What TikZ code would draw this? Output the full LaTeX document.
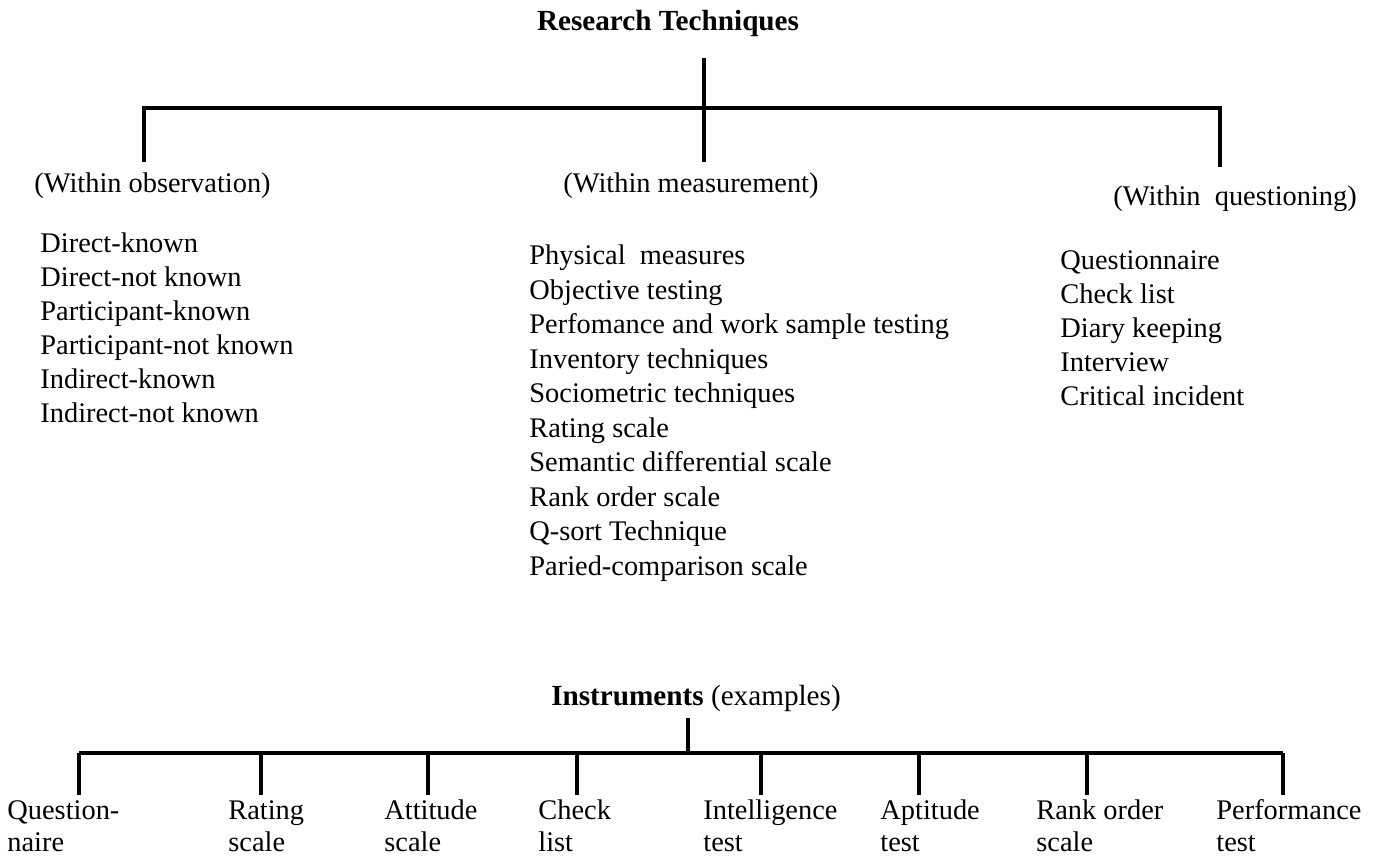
\documentclass[tikz,border=0pt]{standalone}
\usepackage{fontspec}
\setmainfont{Liberation Serif}
\begin{document}
\begin{tikzpicture}[x=0.5pt,y=-0.5pt,
  txt/.style={font=\fontsize{14.2pt}{17pt}\selectfont, inner sep=0pt, anchor=base west},
  head/.style={font=\fontsize{14.6pt}{17pt}\selectfont, inner sep=0pt, anchor=base},
  bus/.style={line width=1.6pt, line cap=butt}]
\useasboundingbox (0,0) rectangle (1379,857);

% --- Research techniques tree ---
\node[head] (rt) at (668,30) {\bfseries Research Techniques};
\node[txt] (obs) at (34,192) {(Within observation)};
\node[txt] (mea) at (563,192) {(Within measurement)};
\node[txt] (que) at (1113,205) {(Within\ \ questioning)};

\coordinate (rtfoot) at (704,58);
\coordinate (rtjoin) at (704,108);
\coordinate (obsbus) at (144,108);
\coordinate (quebus) at (1220,108);
\coordinate (obstop) at (144,162);
\coordinate (meatop) at (704,162);
\coordinate (quetop) at (1220,167);

\draw[bus] (obstop) -- (obsbus) -- (quebus) -- (quetop);
\draw[bus] (rtfoot) -- (rtjoin) -- (meatop);

% observation techniques
\foreach \t [count=\i] in {Direct-known, Direct-not known, Participant-known,
    Participant-not known, Indirect-known, Indirect-not known}
  \node[txt] (o\i) at (40,{218+34*\i}) {\t};

% measurement techniques
\foreach \t [count=\i] in {Physical\ \ measures, Objective testing,
    Perfomance and work sample testing, Inventory techniques,
    Sociometric techniques, Rating scale, Semantic differential scale,
    Rank order scale, Q-sort Technique, Paried-comparison scale}
  \node[txt] (m\i) at (529,{230+34.5*\i}) {\t};

% questioning techniques
\foreach \t [count=\i] in {Questionnaire, Check list, Diary keeping,
    Interview, Critical incident}
  \node[txt] (q\i) at (1060,{235+34*\i}) {\t};

% --- Instruments tree ---
\node[head] (ins) at (696,705) {\bfseries Instruments \mdseries(examples)};
\coordinate (insfoot) at (688,718);
\coordinate (insjoin) at (688,753);
\draw[bus] (insfoot) -- (insjoin);

\foreach \x/\lx/\a/\b [count=\i] in {
    79/7/Question-/naire, 261/228/Rating/scale, 428/384/Attitude/scale,
    577/538/Check/list, 761/703/Intelligence/test, 919/880/Aptitude/test,
    1087/1036/Rank order/scale, 1283/1216/Performance/test} {
  \coordinate (d\i) at (\x,753);
  \coordinate (e\i) at (\x,795);
  \node[txt] (ia\i) at (\lx,819) {\a};
  \node[txt] (ib\i) at (\lx,851) {\b};
  \draw[bus] (d\i) -- (e\i);
}
\draw[bus] (d1) -- (d8);
\end{tikzpicture}
\end{document}
